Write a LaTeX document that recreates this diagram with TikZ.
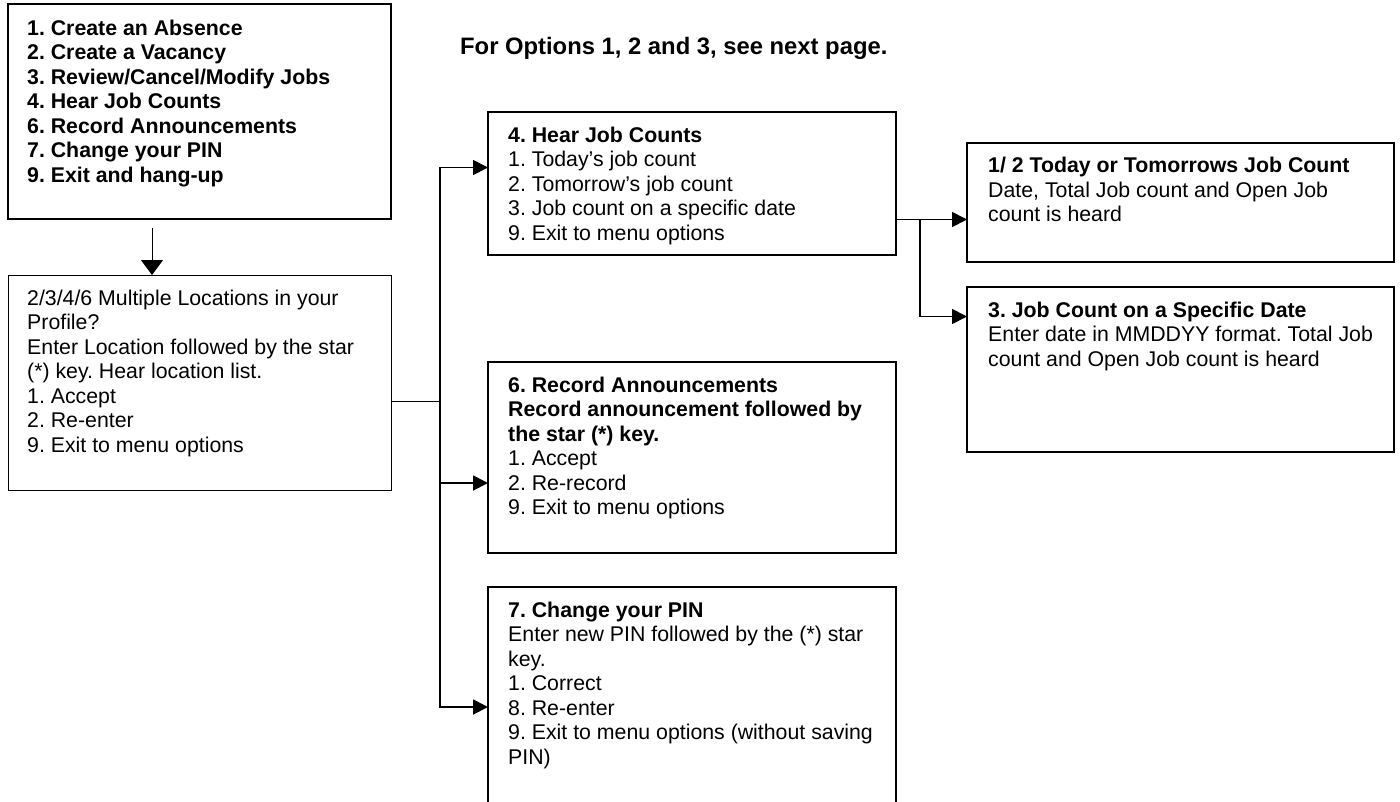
\documentclass[tikz,border=0pt]{standalone}
\usepackage{fontspec}
\setmainfont{Liberation Sans}
\usetikzlibrary{arrows.meta}
\frenchspacing
\begin{document}
\frenchspacing
\begin{tikzpicture}[x=1pt,y=-1pt,
  thickbox/.style={draw, line width=1.8pt, inner sep=0, outer sep=0, anchor=north west},
  thinbox/.style={draw, line width=1pt, inner sep=0, outer sep=0, anchor=north west},
  txt/.style={anchor=north west, inner sep=0, align=left, font=\fontsize{21.3pt}{24.5pt}\selectfont\frenchspacing},
  conn/.style={line width=1.8pt},
  thinconn/.style={line width=1pt},
  arr/.style={conn, -{Triangle[length=15pt,width=15pt]}},
  varr/.style={thinconn, -{Triangle[length=15pt,width=22pt]}},
]
\useasboundingbox (0,0) rectangle (1400,801);

% header
\node[anchor=base west, inner sep=0, font=\fontsize{23.8pt}{27pt}\selectfont\bfseries\frenchspacing] (hdr) at (460,54) {For Options 1, 2 and 3, see next page.};

% boxes
\node[thickbox, minimum width=383pt, minimum height=215pt] (b1) at (8,4) {};
\node[thinbox,  minimum width=383pt, minimum height=215pt] (b2) at (8,275) {};
\node[thickbox, minimum width=408pt, minimum height=143pt] (b4) at (488,112) {};
\node[thickbox, minimum width=408pt, minimum height=191pt] (b6) at (488,362) {};
\node[thickbox, minimum width=408pt, minimum height=240pt] (b7) at (488,587) {};
\node[thickbox, minimum width=427pt, minimum height=119pt] (b12) at (967,143) {};
\node[thickbox, minimum width=427pt, minimum height=165pt] (b3) at (967,287) {};

% texts
\node[txt, font=\fontsize{21.3pt}{24.5pt}\selectfont\bfseries\frenchspacing] (t1) at (27,17.85) {\strut 1. Create an Absence\\2. Create a Vacancy\\3. Review/Cancel/Modify Jobs\\4. Hear Job Counts\\6. Record Announcements\\7. Change your PIN\\9. Exit and hang-up};
\node[txt] (t2) at (27,287.85) {\strut 2/3/4/6 Multiple Locations in your\\Profile?\\Enter Location followed by the star\\(*) key. Hear location list.\\1. Accept\\2. Re-enter\\9. Exit to menu options};
\node[txt] (t4) at (508,124.85) {\strut\textbf{4. Hear Job Counts}\\1. Today’s job count\\2. Tomorrow’s job count\\3. Job count on a specific date\\9. Exit to menu options};
\node[txt] (t6) at (508,374.85) {\strut\textbf{6. Record Announcements}\\\textbf{Record announcement followed by}\\\textbf{the star (*) key.}\\1. Accept\\2. Re-record\\9. Exit to menu options};
\node[txt] (t7) at (508,599.85) {\strut\textbf{7. Change your PIN}\\Enter new PIN followed by the (*) star\\key.\\1. Correct\\8. Re-enter\\9. Exit to menu options (without saving\\PIN)};
\node[txt] (t12) at (988,155.35) {\strut\textbf{1/ 2 Today or Tomorrows Job Count}\\Date, Total Job count and Open Job\\count is heard};
\node[txt] (t3) at (988,299.85) {\strut\textbf{3. Job Count on a Specific Date}\\Enter date in MMDDYY format. Total Job\\count and Open Job count is heard};

% connectors
\coordinate (a1) at (152,228);
\draw[varr] (a1) -- (a1 |- b2.north);

\coordinate (t) at (440,401);
\draw[thinconn] ([yshift=-18.5pt]b2.east) -- (t);
\draw[arr] (t) |- ([yshift=16pt]b4.west);
\draw[arr] (t) |- ([yshift=-25.5pt]b6.west);
\draw[arr] (t) |- (b7.west);

\coordinate (o4) at ([yshift=-36pt]b4.east);
\draw[arr] (o4) -- (o4 -| b12.west);
\coordinate (br) at (920,219);
\draw[arr] (br) |- ([yshift=53pt]b3.west);
\end{tikzpicture}
\end{document}
